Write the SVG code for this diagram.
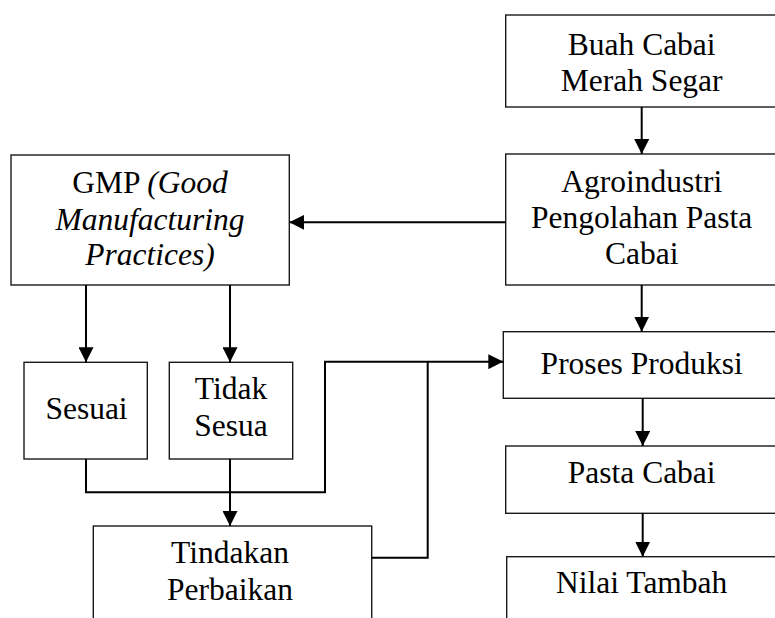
<svg xmlns="http://www.w3.org/2000/svg" width="775" height="618" viewBox="0 0 775 618">
<style>
.box{fill:#fff;stroke:#1a1a1a;stroke-width:1.4}
.t{font-family:"Liberation Serif","Times New Roman",serif;font-size:31.5px;fill:#000;text-anchor:middle}
.i{font-style:italic}
.c{fill:none;stroke:#000;stroke-width:2}
</style>
<defs>
<marker id="ah" viewBox="0 0 10 10" refX="10" refY="5" markerWidth="15" markerHeight="15" markerUnits="userSpaceOnUse" orient="auto">
<path d="M0,0 L10,5 L0,10 z" fill="#000"/>
</marker>
</defs>
<rect width="775" height="618" fill="#fff"/>
<g id="buah">
<rect class="box" x="505.7" y="15" width="273" height="92"/>
<text class="t" x="641.7" y="55">Buah Cabai</text>
<text class="t" x="641.7" y="90.7">Merah Segar</text>
</g>
<g id="agro">
<rect class="box" x="505.7" y="154" width="273" height="131"/>
<text class="t" x="641.7" y="191.7">Agroindustri</text>
<text class="t" x="641.7" y="228.3">Pengolahan Pasta</text>
<text class="t" x="641.7" y="263.5">Cabai</text>
</g>
<g id="gmp">
<rect class="box" x="11" y="155" width="278.3" height="130"/>
<text class="t" x="150" y="193.3">GMP <tspan class="i">(Good</tspan></text>
<text class="t i" x="150" y="229.5">Manufacturing</text>
<text class="t i" x="150" y="265">Practices)</text>
</g>
<g id="proses">
<rect class="box" x="503.3" y="331.7" width="275" height="66.6"/>
<text class="t" x="641.7" y="374">Proses Produksi</text>
</g>
<g id="sesuai">
<rect class="box" x="24" y="362.3" width="123.3" height="96.7"/>
<text class="t" x="86.5" y="419.3">Sesuai</text>
</g>
<g id="tidak">
<rect class="box" x="169.3" y="362.3" width="123.4" height="96.7"/>
<text class="t" x="231" y="399.3">Tidak</text>
<text class="t" x="231" y="436">Sesua</text>
</g>
<g id="pasta">
<rect class="box" x="505.7" y="446" width="273" height="67.3"/>
<text class="t" x="641.7" y="483.3">Pasta Cabai</text>
</g>
<g id="tindakan">
<rect class="box" x="93.3" y="526" width="278.4" height="100"/>
<text class="t" x="230" y="563.3">Tindakan</text>
<text class="t" x="230" y="600">Perbaikan</text>
</g>
<g id="nilai">
<rect class="box" x="506.7" y="556.7" width="272" height="70"/>
<text class="t" x="641.7" y="593.3">Nilai Tambah</text>
</g>
<g id="connectors">
<path class="c" d="M641.7,107 V154" marker-end="url(#ah)"/>
<path class="c" d="M641.7,285 V331.7" marker-end="url(#ah)"/>
<path class="c" d="M642.7,398.3 V446" marker-end="url(#ah)"/>
<path class="c" d="M642.7,513.3 V556.7" marker-end="url(#ah)"/>
<path class="c" d="M505.7,222.3 H289.3" marker-end="url(#ah)"/>
<path class="c" d="M86,285 V362.3" marker-end="url(#ah)"/>
<path class="c" d="M230,285 V362.3" marker-end="url(#ah)"/>
<path class="c" d="M86,459 V492.3 H325 V361.7 H503.3" marker-end="url(#ah)"/>
<path class="c" d="M230,459 V526" marker-end="url(#ah)"/>
<path class="c" d="M371.7,557.7 H427.7 V361.7"/>
</g>
</svg>
